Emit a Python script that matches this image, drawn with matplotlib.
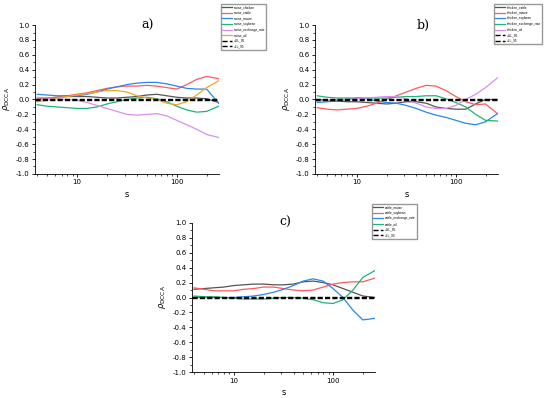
import matplotlib
matplotlib.use("Agg")
from matplotlib import pyplot as plt
from matplotlib.ticker import MultipleLocator
import numpy as np

# log10 of the scale s at which values were read
logs = [0.6, 0.7, 0.8, 0.9, 1.0, 1.1, 1.2, 1.3, 1.4, 1.5, 1.6, 1.7, 1.8, 1.9, 2.0, 2.1, 2.2, 2.3, 2.42]
s = 10 ** np.array(logs)

swine_chicken = [0.0, 0.02, 0.03, 0.04, 0.04, 0.04, 0.03, 0.02, 0.02, 0.03, 0.04, 0.06, 0.07, 0.05, 0.03, 0.02, 0.02, 0.01, -0.04]
swine_cattle = [0.02, 0.02, 0.03, 0.05, 0.07, 0.09, 0.12, 0.15, 0.17, 0.18, 0.18, 0.19, 0.18, 0.16, 0.14, 0.2, 0.27, 0.31, 0.28]
swine_maize = [0.07, 0.06, 0.05, 0.05, 0.05, 0.07, 0.1, 0.14, 0.17, 0.2, 0.22, 0.23, 0.23, 0.21, 0.18, 0.15, 0.14, 0.14, -0.05]
swine_soybean = [-0.07, -0.09, -0.1, -0.11, -0.12, -0.12, -0.1, -0.06, -0.03, 0.0, 0.02, 0.03, 0.01, -0.03, -0.09, -0.14, -0.17, -0.16, -0.09]
swine_exchange_rate = [0.03, 0.02, 0.01, 0.0, -0.01, -0.04, -0.08, -0.12, -0.16, -0.2, -0.21, -0.2, -0.19, -0.22, -0.28, -0.34, -0.4, -0.47, -0.51]
swine_oil = [-0.03, -0.01, 0.02, 0.04, 0.06, 0.08, 0.1, 0.12, 0.12, 0.1, 0.05, 0.02, 0.0, -0.05, -0.07, -0.03, 0.06, 0.16, 0.25]

chicken_cattle = [0.0, -0.01, -0.02, -0.03, -0.03, -0.04, -0.05, -0.06, -0.05, -0.03, -0.03, -0.05, -0.1, -0.12, -0.13, -0.13, -0.06, 0.0, 0.0]
chicken_maize = [-0.11, -0.13, -0.14, -0.13, -0.12, -0.09, -0.05, 0.0, 0.05, 0.1, 0.15, 0.19, 0.18, 0.12, 0.04, -0.03, -0.07, -0.06, -0.19]
chicken_soybean = [-0.04, -0.03, -0.02, 0.0, 0.02, 0.01, -0.02, -0.04, -0.05, -0.08, -0.12, -0.17, -0.21, -0.24, -0.28, -0.32, -0.34, -0.3, -0.19]
chicken_exchange_rate = [0.05, 0.03, 0.02, 0.02, 0.02, 0.02, 0.02, 0.02, 0.03, 0.04, 0.04, 0.05, 0.05, 0.01, -0.04, -0.1, -0.2, -0.28, -0.29]
chicken_oil = [-0.02, -0.01, 0.0, 0.0, 0.01, 0.02, 0.03, 0.04, 0.04, 0.01, -0.05, -0.1, -0.12, -0.12, -0.08, 0.0, 0.07, 0.16, 0.29]

cattle_maize = [0.11, 0.12, 0.13, 0.14, 0.16, 0.17, 0.18, 0.18, 0.17, 0.17, 0.18, 0.21, 0.22, 0.2, 0.17, 0.12, 0.07, 0.02, 0.0]
cattle_soybean = [0.13, 0.11, 0.09, 0.09, 0.09, 0.11, 0.12, 0.14, 0.14, 0.12, 0.1, 0.09, 0.1, 0.14, 0.18, 0.2, 0.21, 0.21, 0.26]
cattle_exchange_rate = [0.0, 0.0, 0.0, 0.0, 0.0, 0.01, 0.02, 0.04, 0.07, 0.11, 0.16, 0.22, 0.25, 0.22, 0.12, 0.0, -0.17, -0.3, -0.28]
cattle_oil = [0.02, 0.01, 0.01, 0.0, -0.01, -0.02, -0.02, -0.02, -0.01, 0.0, 0.0, -0.01, -0.03, -0.07, -0.08, -0.03, 0.1, 0.27, 0.36]

ul_95 = 0.005
ll_95 = -0.005

colors = ['#555555', '#ff5a5a', '#2a86f0', '#22b27a', '#d690f0', '#f0a626']

panels = [
    ('a)', 0.61, [0.064, 0.563, 0.334, 0.374], (221 / 550, 1 - 4 / 398),
     [('swine_chicken', swine_chicken), ('swine_cattle', swine_cattle), ('swine_maize', swine_maize),
      ('swine_soybean', swine_soybean), ('swine_exchange_rate', swine_exchange_rate), ('swine_oil', swine_oil)]),
    ('b)', 0.59, [0.573, 0.563, 0.332, 0.374], (494 / 550, 1 - 4 / 398),
     [('chicken_cattle', chicken_cattle), ('chicken_maize', chicken_maize), ('chicken_soybean', chicken_soybean),
      ('chicken_exchange_rate', chicken_exchange_rate), ('chicken_oil', chicken_oil)]),
    ('c)', 0.51, [0.349, 0.065, 0.333, 0.375], (372 / 550, 1 - 204 / 398),
     [('cattle_maize', cattle_maize), ('cattle_soybean', cattle_soybean),
      ('cattle_exchange_rate', cattle_exchange_rate), ('cattle_oil', cattle_oil)]),
]

fig = plt.figure(figsize=(5.5, 3.98), dpi=100)

for title, tx, rect, leg_pos, series in panels:
    ax = fig.add_axes(rect)
    handles = []
    for i, (name, vals) in enumerate(series):
        h, = ax.plot(s, vals, color=colors[i], linewidth=0.9, label=name)
        handles.append(h)
    h1, = ax.plot([3.8, 265], [ul_95, ul_95], '--', color='black', linewidth=1.0, label='+UL_95')
    h2, = ax.plot([3.8, 265], [ll_95, ll_95], '--', color='black', linewidth=1.0, label='+LL_95')
    handles += [h1, h2]
    ax.set_xscale('log')
    ax.set_xlim(3.8, 265)
    ax.set_ylim(-1.0, 1.0)
    ax.yaxis.set_major_locator(MultipleLocator(0.2))
    ax.yaxis.set_minor_locator(MultipleLocator(0.1))
    ax.set_xticks([10, 100])
    ax.set_xticklabels(['10', '100'])
    ax.spines['top'].set_visible(False)
    ax.spines['right'].set_visible(False)
    ax.spines['left'].set_linewidth(0.6)
    ax.spines['bottom'].set_linewidth(0.6)
    ax.tick_params(axis='both', which='major', labelsize=5, length=2.5, width=0.6, pad=1.5)
    ax.tick_params(axis='both', which='minor', length=1.5, width=0.5)
    ax.set_yticklabels(['%.1f' % v for v in ax.get_yticks()])
    ax.set_xlabel('s', fontsize=6, labelpad=3)
    ax.set_ylabel(r'$\rho_{\mathrm{DCCA}}$', fontsize=6, labelpad=3)
    ax.text(tx, 1.0, title, transform=ax.transAxes, fontsize=9, family='DejaVu Serif',
            ha='center', va='center')
    fig.legend(handles=handles, loc='upper left', bbox_to_anchor=leg_pos,
               prop={'family': 'Liberation Sans', 'size': 2.3},
               frameon=True, fancybox=False, edgecolor='#999999', framealpha=1,
               handlelength=3.0, labelspacing=0.5, borderpad=0.4, handletextpad=0.6,
               borderaxespad=0)

plt.savefig('out.png', dpi=100)
